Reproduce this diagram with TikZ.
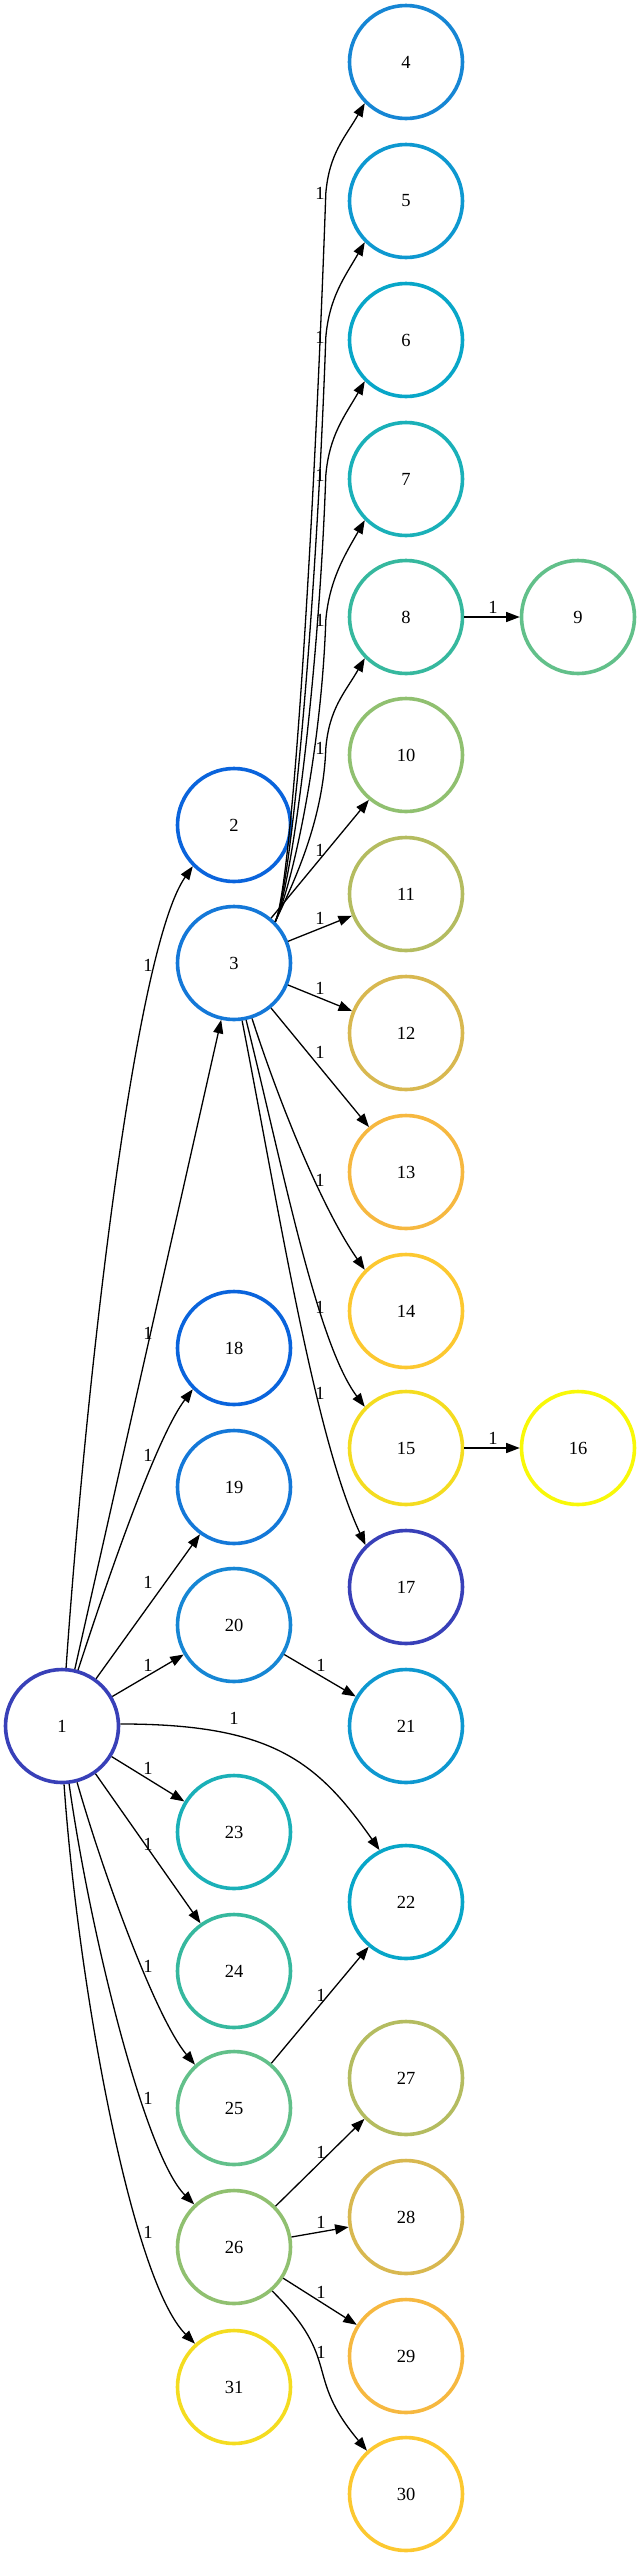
\documentclass[tikz,border=0pt]{standalone}
\usepackage{fontspec}
\setmainfont{Liberation Serif}
\usetikzlibrary{arrows.meta}
\definecolor{pal0}{RGB}{56,64,184}
\definecolor{pal1}{RGB}{10,100,220}
\definecolor{pal2}{RGB}{20,120,216}
\definecolor{pal3}{RGB}{22,134,212}
\definecolor{pal4}{RGB}{14,152,208}
\definecolor{pal5}{RGB}{8,166,200}
\definecolor{pal6}{RGB}{26,176,184}
\definecolor{pal7}{RGB}{54,184,158}
\definecolor{pal8}{RGB}{98,192,138}
\definecolor{pal9}{RGB}{144,192,112}
\definecolor{pal10}{RGB}{180,188,96}
\definecolor{pal11}{RGB}{216,184,80}
\definecolor{pal12}{RGB}{246,184,64}
\definecolor{pal13}{RGB}{252,200,48}
\definecolor{pal14}{RGB}{244,220,32}
\definecolor{pal15}{RGB}{248,248,8}

\begin{document}
\begin{tikzpicture}[x=1pt,y=1pt,
  vtx/.style={circle,line width=3.6pt,minimum size=113pt,inner sep=0pt,font=\fontsize{18.5}{20}\selectfont},
  lbl/.style={inner sep=1pt,font=\fontsize{18.5}{20}\selectfont},
  link/.style={line width=1.3pt,-{Triangle[length=13.5pt,width=10pt]}}]
\useasboundingbox (0,0) rectangle (641,-2557);
% vertices, colour cycles every 16
\foreach \k/\x/\y in {1/62/1726,2/234/825,3/234/963,4/406/62,5/406/201,6/406/340,
    7/406/479,8/406/617,9/578/617,10/406/755,11/406/894,12/406/1033,13/406/1172,
    14/406/1311,15/406/1448,16/578/1448,17/406/1587,18/234/1348,19/234/1487,
    20/234/1625,21/406/1726,22/406/1902,23/234/1832,24/234/1971,25/234/2108,
    26/234/2247,27/406/2078,28/406/2217,29/406/2356,30/406/2494,31/234/2387}{
  \pgfmathtruncatemacro{\ci}{mod(\k-1,16)}
  \node[vtx,draw=pal\ci] (n\k) at (\x,-\y) {\k};
}
% weights
\foreach \a/\b/\x/\y in {1/2/148/965,1/3/148/1333,1/18/148/1455,1/19/148/1582,
    1/20/148/1665,1/22/234/1718,1/23/148/1768,1/24/148/1844,1/25/148/1966,
    1/26/148/2098,1/31/148/2232,3/4/320/193,3/5/320/337,3/6/320/475,3/7/320/620,
    3/8/320/748,3/10/320/850,3/11/320/918,3/12/320/988,3/13/320/1052,
    3/14/320/1180,3/15/320/1307,3/17/320/1393,8/9/493/607,15/16/493/1438,
    20/21/321/1665,25/22/321/1995,26/27/321/2152,26/28/321/2222,26/29/321/2292,
    26/30/321/2352}
  \node[lbl] (l\a-\b) at (\x,-\y) {1};
% straight links
\foreach \a/\b in {1/3,1/19,1/20,1/23,1/24,3/10,3/11,3/12,3/13,8/9,15/16,
    20/21,25/22,26/27,26/28,26/29}
  \draw[link] (n\a) -- (n\b);
% bundle out of 3, through the weights
\foreach \k/\d in {4/330,5/260,6/200,7/135,8/75}
  \draw[link] (n3.45) .. controls +(65:40) and +(268:\d) .. (l3-\k.east)
    .. controls +(85:40) and +(240:40) .. (n\k.225);
% curved links
\draw[link] (n1.86) .. controls +(86:300) and +(235:100) .. (n2.225);
\draw[link] (n1.74) .. controls +(72:100) and +(233:60) .. (n18.225);
\draw[link] (n1.2) .. controls +(0:150) and +(125:110) .. (n22.117);
\draw[link] (n1.285) .. controls +(-74:100) and +(130:60) .. (n25.132);
\draw[link] (n1.277) .. controls +(-82:150) and +(135:70) .. (n26.133);
\draw[link] (n1.272) .. controls +(-86:200) and +(135:90) .. (n31.132);
\draw[link] (n3.288) .. controls +(-72:100) and +(125:70) .. (n14.135);
\draw[link] (n3.282) .. controls +(-76:150) and +(127:80) .. (n15.135);
\draw[link] (n3.278) .. controls +(-79:200) and +(115:120) .. (n17.134);
\draw[link] (n26.311) .. controls +(-45:100) and +(130:100) .. (n30.132);
\end{tikzpicture}
\end{document}
